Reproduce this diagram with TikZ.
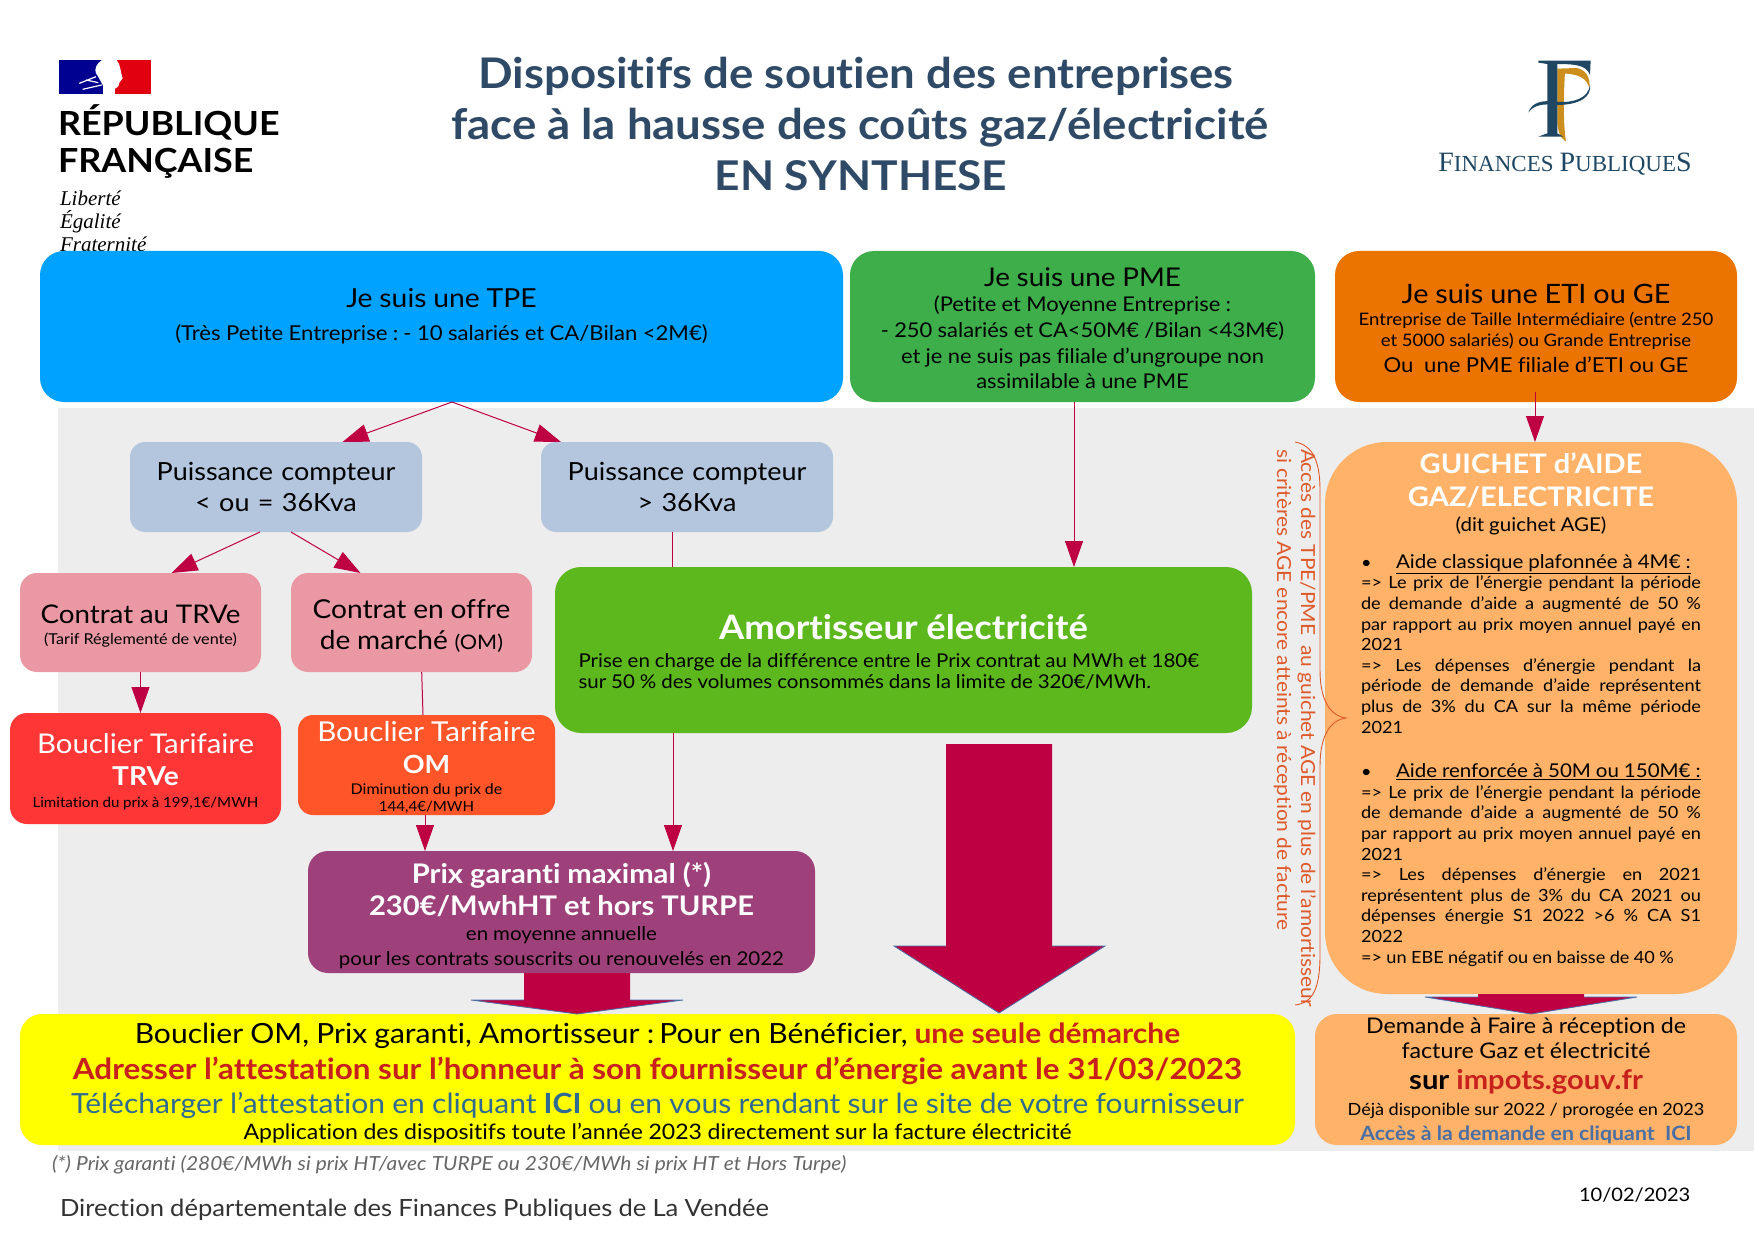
\documentclass[tikz,border=0pt]{standalone}
\usepackage{fontspec}
\setmainfont[FakeStretch=1.08,Ligatures=NoCommon]{Lato}
\newfontfamily\serifrm{Liberation Serif}
\usetikzlibrary{arrows.meta,calc}
\definecolor{grayb}{HTML}{EDEDED}
\definecolor{tpec}{HTML}{00A2FF}
\definecolor{pmec}{HTML}{3EAE4A}
\definecolor{etic}{HTML}{EB7400}
\definecolor{puic}{HTML}{B3C6DE}
\definecolor{conc}{HTML}{EA99A4}
\definecolor{boutc}{HTML}{FF3636}
\definecolor{booc}{HTML}{FF5529}
\definecolor{amoc}{HTML}{5DB81E}
\definecolor{prixc}{HTML}{9E417A}
\definecolor{orac}{HTML}{FFB268}
\definecolor{yelc}{HTML}{FFFF00}
\definecolor{linec}{HTML}{BE0042}
\definecolor{titlec}{HTML}{2F4A66}
\definecolor{redt}{HTML}{C8201C}
\definecolor{bluet}{HTML}{2F6A93}
\definecolor{bluea}{HTML}{4A6FA5}
\definecolor{bracec}{HTML}{DF5A2B}
\definecolor{fpblue}{HTML}{1F4763}
\definecolor{fpgold}{HTML}{CC8F1E}
\newcommand{\fz}[2]{\fontsize{#1pt}{#2pt}\selectfont\spaceskip=0.26em\relax}
\newcommand{\jl}[1]{\makebox[340pt][s]{\spaceskip=0.26em plus 1fil minus 0.05em\relax #1}\par}
\newcommand{\lf}[1]{\makebox[340pt][l]{#1}\par}
\newcommand{\tailskip}[1]{\vskip#1\hrule height 0pt width 0pt\relax}
\tikzset{
 box/.style={inner sep=0pt,outer sep=0pt,align=center,text=black},
 flow/.style={draw=linec,line width=1pt,-{Triangle[length=26pt,width=18pt]}},
 plain/.style={draw=linec,line width=1pt},
 block/.style={fill=linec},
 shoulder/.style={draw=bluea,line width=0.8pt},
 free/.style={inner sep=0pt,outer sep=0pt},
}
\begin{document}
\begin{tikzpicture}[x=1pt,y=-1pt]
\useasboundingbox (0,0) rectangle (1754,1241);
\fill[grayb] (58,407.5) rectangle (1754,1151);
% RF logo
\begin{scope}[shift={(0,30)},x=0.3333pt,y=-0.3333pt]
\fill[fill={rgb,255:red,0;green,0;blue,145}] (178,90) rectangle (310,192);
\fill[fill={rgb,255:red,225;green,0;blue,15}] (345,90) rectangle (454,192);
\fill[white] (306,90) .. controls (290,100) and (282,118) .. (288,130) .. controls (300,145) and (305,165) .. (318,180) -- (335,192) -- (335,180) .. controls (350,175) and (358,170) .. (358,158) -- (368,145) .. controls (360,120) and (362,105) .. (350,90) -- cycle;
\draw[white,line width=1.2pt] (238,160) -- (288,140) (248,178) -- (305,165) (258,150) -- (295,158);
\end{scope}
\node[free,anchor=base west,font=\fz{33.2}{34}\bfseries] (rf1) at (58,136) {RÉPUBLIQUE};
\node[free,anchor=base west,font=\fz{33.2}{34}\bfseries] (rf2) at (58,173) {FRANÇAISE};
\node[free,anchor=base west,font=\fz{21}{21}\serifrm\itshape] (rf3) at (60,206) {Liberté};
\node[free,anchor=base west,font=\fz{21}{21}\serifrm\itshape] (rf4) at (60,229) {Égalité};
\node[free,anchor=base west,font=\fz{21}{21}\serifrm\itshape] (rf5) at (60,252) {Fraternité};
% FP logo
\begin{scope}[shift={(1420,40)},x=0.3333pt,y=-0.3333pt]
\fill[fpgold] (412,100) -- (435,95) .. controls (432,150) and (428,240) .. (438,305) .. controls (420,295) and (412,270) .. (412,240) -- cycle;
\fill[fpgold] (412,86) -- (470,84) .. controls (500,90) and (512,115) .. (508,145) .. controls (500,115) and (480,100) .. (412,100) -- cycle;
\fill[fpblue] (355,62) -- (512,62) -- (510,105) .. controls (500,80) and (480,72) .. (412,72) -- (412,280) -- (430,290) -- (355,290) -- (382,280) -- (382,72) -- (355,68) -- cycle;
\fill[fpblue] (325,218) .. controls (335,185) and (370,180) .. (410,185) .. controls (460,190) and (505,175) .. (510,135) .. controls (515,170) and (480,195) .. (410,195) .. controls (370,190) and (340,195) .. (325,218) -- cycle;
\end{scope}
\node[free,anchor=base,text=fpblue,font=\fz{23}{23}\serifrm] (fp) at (1565,172) {{\fz{28}{28}F}INANCES {\fz{28}{28}P}UBLIQUE{\fz{28}{28}S}};
% Title
\node[free,anchor=base,text=titlec,font=\fz{42.2}{42}\bfseries] (t1) at (856,89) {Dispositifs de soutien des entreprises};
\node[free,anchor=base,text=titlec,font=\fz{42.2}{42}\bfseries] (t2) at (860,140) {face à la hausse des coûts gaz/électricité};
\node[free,anchor=base,text=titlec,font=\fz{41}{41}\bfseries] (t3) at (861,191) {EN SYNTHESE};
% Top boxes
\node[box,fill=tpec,minimum width=803pt,minimum height=151pt,text width=803pt,rounded corners=24pt] (tpe) at (441.5,326.5)
 {{\fz{26.2}{36}Je suis une TPE\par}{\fz{20.5}{33}(Très Petite Entreprise : - 10 salariés et CA/Bilan <2M€)\par}\tailskip{21pt}};
\node[box,fill=pmec,minimum width=465pt,minimum height=151pt,text width=465pt,rounded corners=24pt] (pme) at (1082.5,326.5)
 {{\fz{25.8}{30}Je suis une PME\par}{\fz{20.3}{25.6}(Petite et Moyenne Entreprise :\par - 250 salariés et CA<50M€ /Bilan <43M€)\par et je ne suis pas filiale d’ungroupe non\par assimilable à une PME\par}\tailskip{-3.4pt}};
\node[box,fill=etic,minimum width=402pt,minimum height=151pt,text width=402pt,rounded corners=24pt] (eti) at (1536,326.5)
 {{\fz{26.7}{30}Je suis une ETI ou GE\par}{\fz{17.2}{22.5}Entreprise de Taille Intermédiaire (entre 250\par}{\fz{17.2}{20.5}et 5000 salariés) ou Grande Entreprise\par}{\fz{20.5}{26}Ou\ \ une PME filiale d’ETI ou GE\par}\tailskip{-3pt}};
% Second level
\node[box,fill=puic,minimum width=292pt,minimum height=90pt,text width=292pt,rounded corners=15pt,font=\fz{25}{31.5}] (pl) at (276,487) {Puissance compteur\par < ou = 36Kva\par};
\node[box,fill=puic,minimum width=292pt,minimum height=90pt,text width=292pt,rounded corners=15pt,font=\fz{25}{31.5}] (pr) at (687,487) {Puissance compteur\par > 36Kva\par};
\node[box,fill=conc,minimum width=241pt,minimum height=99pt,text width=241pt,rounded corners=17pt] (ct) at (140.5,622.5) {{\fz{25.7}{28}Contrat au TRVe\par}{\fz{15}{21}(Tarif Réglementé de vente)\par}\tailskip{-8pt}};
\node[box,fill=conc,minimum width=241pt,minimum height=99pt,text width=241pt,rounded corners=17pt] (co) at (411.5,622.5) {{\fz{26}{31}Contrat en offre\par de marché {\fz{20}{31}(OM)}\par}\tailskip{-7pt}};
\node[box,fill=boutc,minimum width=271pt,minimum height=111pt,text width=271pt,rounded corners=17pt] (bt) at (145.5,768.5) {{\color{white}{\fz{27.2}{32.5}Bouclier Tarifaire\par}{\fz{26}{32.5}\bfseries TRVe\par}}{\fz{14}{22}Limitation du prix à 199,1€/MWH\par}\tailskip{-6pt}};
\node[box,fill=booc,minimum width=257pt,minimum height=100pt,text width=257pt,rounded corners=15pt] (bo) at (426.5,765) {{\color{white}{\fz{27.4}{32}Bouclier Tarifaire\par}{\fz{25}{32}\bfseries OM\par}}{\fz{14.8}{21}Diminution du prix de\par}{\fz{14}{17}144,4€/MWH\par}\tailskip{-5.6pt}};
\node[box,fill=amoc,minimum width=697pt,minimum height=166pt,text width=697pt,rounded corners=26pt] (am) at (903.5,650) {{\color{white}\fz{33.7}{40}\bfseries Amortisseur électricité\par}{\fz{19}{28}\makebox[650pt][l]{Prise en charge de la différence entre le Prix contrat au MWh et 180€}\par}{\fz{19}{21}\makebox[650pt][l]{sur 50 \% des volumes consommés dans la limite de 320€/MWh.}\par}\tailskip{-4.5pt}};
\node[box,fill=prixc,minimum width=507pt,minimum height=122pt,text width=507pt,rounded corners=20pt] (pg) at (561.5,912) {\vskip-3pt{\color{white}\fz{27}{31.5}\bfseries Prix garanti maximal (*)\par 230€/MwhHT et hors TURPE\par}{\fz{19}{25}en moyenne annuelle\par pour les contrats souscrits ou renouvelés en 2022\par}};
\node[box,fill=orac,minimum width=412pt,minimum height=552pt,text width=412pt,rounded corners=62pt] (gu) at (1531,718)
 {{\color{white}\fz{26.9}{33}\bfseries GUICHET d’AIDE\par GAZ/ELECTRICITE\par}{\fz{19}{25}(dit guichet AGE)\par}\vskip16pt
 \fz{16.8}{20.6}\lf{\makebox[35pt][l]{•}{\fz{19}{20.6}\underline{Aide classique plafonnée à 4M€ :}}}
 \jl{=> Le prix de l’énergie pendant la période}\jl{de demande d’aide a augmenté de 50 \%}\jl{par rapport au prix moyen annuel payé en}\lf{2021}\jl{=> Les dépenses d’énergie pendant la}\jl{période de demande d’aide représentent}\jl{plus de 3\% du CA sur la même période}\lf{2021}\vskip24pt
 \lf{\makebox[35pt][l]{•}{\fz{19}{20.6}\underline{Aide renforcée à 50M ou 150M€ :}}}
 \jl{=> Le prix de l’énergie pendant la période}\jl{de demande d’aide a augmenté de 50 \%}\jl{par rapport au prix moyen annuel payé en}\lf{2021}\jl{=> Les dépenses d’énergie en 2021}\jl{représentent plus de 3\% du CA 2021 ou}\jl{dépenses énergie S1 2022 >6 \% CA S1}\lf{2022}\lf{=> un EBE négatif ou en baisse de 40 \%}\tailskip{17pt}};
\node[box,fill=yelc,minimum width=1275pt,minimum height=131pt,text width=1275pt,rounded corners=22pt] (yl) at (657.5,1079.5)
 {\vskip-6pt{\fz{27.8}{34}Bouclier OM, Prix garanti, Amortisseur : Pour en Bénéficier, {\bfseries\color{redt}une seule démarche}\par}{\fz{29.1}{36}\bfseries\color{redt}Adresser l’attestation sur l’honneur à son fournisseur d’énergie avant le 31/03/2023\par}{\fz{27.8}{33.5}\color{bluet}Télécharger l’attestation en cliquant {\bfseries ICI} ou en vous rendant sur le site de votre fournisseur\par}{\fz{21.35}{26}Application des dispositifs toute l’année 2023 directement sur la facture électricité\par}};
\node[box,fill=orac,minimum width=422pt,minimum height=131pt,text width=422pt,rounded corners=22pt] (db) at (1526,1079.5)
 {\vskip-6pt{\fz{21.5}{25}Demande à Faire à réception de\par facture Gaz et électricité\par}{\fz{27}{31}\bfseries sur {\color{redt}impots.gouv.fr}\par}{\fz{16.8}{26}Déjà disponible sur 2022 / prorogée en 2023\par}{\fz{19.7}{25}\bfseries\color{bluea}Accès à la demande en cliquant\ \ ICI\par}};
% Connectors
\draw[flow] ([xshift=10.5pt]tpe.south) -- ([xshift=66.5pt]pl.north);
\draw[flow] ([xshift=10.5pt]tpe.south) -- ([xshift=-126pt]pr.north);
\draw[flow] ([xshift=-16pt]pl.south) -- ([xshift=31pt]ct.north);
\draw[flow] ([xshift=15pt]pl.south) -- ([xshift=-51pt]co.north);
\draw[flow] (ct.south) -- ([xshift=-5pt]bt.north);
\draw[plain] ([xshift=10.2pt]co.south) -- ([xshift=-3.5pt]bo.north);
\draw[flow] ([xshift=-1.5pt]bo.south) -- ([xshift=-136.5pt]pg.north);
\draw[plain] ([xshift=-15pt]pr.south) -- ([xshift=-231.5pt]am.north);
\draw[flow] ([xshift=-230.5pt]am.south) -- ([xshift=111.5pt]pg.north);
\draw[flow] ([xshift=-8.5pt]pme.south) -- ([xshift=170.5pt]am.north);
\draw[flow] ([yshift=10pt,xshift=-1pt]eti.south) -- ([xshift=4pt]gu.north);
% Block arrows
\begin{scope}[shift={(pg.south)}]
\fill[block] (-37.5,0) -- (68.5,0) -- (68.5,27) -- (121.5,27) -- (15.5,41) -- (-90.5,27) -- (-37.5,27) -- cycle;
\draw[shoulder] (-37.5,27) -- (-90.5,27) -- (15.5,41) -- (121.5,27) -- (68.5,27);
\end{scope}
\begin{scope}[shift={(am.south)}]
\fill[block] (42.5,11) -- (148.5,11) -- (148.5,213) -- (201.5,213) -- (95.5,280) -- (-9.5,213) -- (42.5,213) -- cycle;
\draw[shoulder] (42.5,213) -- (-9.5,213) -- (95.5,280) -- (201.5,213) -- (148.5,213);
\end{scope}
\begin{scope}[shift={(gu.south)}]
\fill[block] (-53,0) -- (53,0) -- (53,3) -- (106,3) -- (0,20) -- (-106,3) -- (-53,3) -- cycle;
\draw[shoulder] (-53,3) -- (-106,3) -- (0,20) -- (106,3) -- (53,3);
\end{scope}
% Brace and side text
\coordinate (brT) at (1295,442);
\coordinate (brB) at (1295,1005);
\coordinate (brP) at ($(gu.west)+(21,0)$);
\draw[bracec,line width=0.9pt] (brT) .. controls (1312,445) and (1320,460) .. (1320,490) -- (1320,670) .. controls (1320,700) and (1330,716) .. (brP) .. controls (1330,720) and (1320,736) .. (1320,766) -- (1320,955) .. controls (1320,990) and (1312,1003) .. (brB);
\node[free,rotate=-90,anchor=north west,align=left,text=bracec,font=\fz{19.4}{24}] (side) at (1316,449) {Accès des TPE/PME\ \ au guichet AGE en plus de l’amortisseur\\si critères AGE encore atteints à réception de facture};
% Footer
\node[free,anchor=west,text=black!60,font=\fz{19.4}{19}\itshape] (fn) at (52,1165) {(*) Prix garanti (280€/MWh si prix HT/avec TURPE ou 230€/MWh si prix HT et Hors Turpe)};
\node[free,anchor=base west,text=black!80,font=\fz{23.7}{23}] (dir) at (60,1216) {Direction départementale des Finances Publiques de La Vendée};
\node[free,anchor=base west,font=\fz{18.6}{19}] (date) at (1579,1201) {10/02/2023};
\end{tikzpicture}
\end{document}
